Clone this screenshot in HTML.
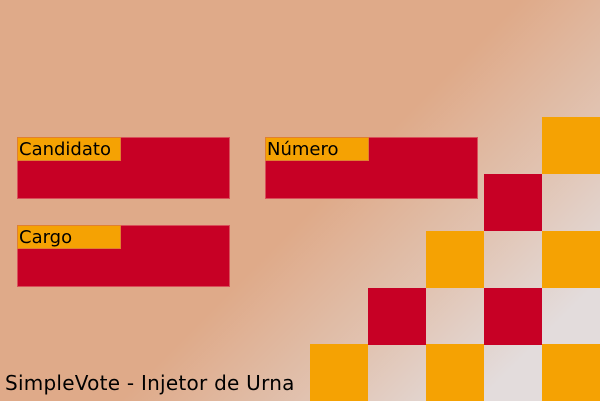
<!DOCTYPE html>
<html><head><meta charset="utf-8"><style>
html,body{margin:0;padding:0}
body{width:600px;height:401px;position:relative;overflow:hidden;font-family:"DejaVu Sans","Liberation Sans",sans-serif;
background:linear-gradient(135deg,#dfaa89 0%,#dfaa89 52%,#e1c4b3 72%,#e3dcdc 88%,#e3dcdc 100%);}
.box{position:absolute;width:213px;height:62px;background:#c70025;border:1px solid #d8505a;box-sizing:border-box}
.lbl{position:absolute;left:-1px;top:-1px;width:104px;height:24px;background:#f5a203;border:1px solid #e08030;box-sizing:border-box;font-size:18px;line-height:24px;padding-left:1px;color:#000}
.c{position:absolute;width:58px;height:57px}
.o{background:#f5a203}.r{background:#c70025}
.f{position:absolute;left:5px;top:371px;font-size:20px;color:#000;letter-spacing:0.25px}
</style></head><body>
<div class="box" style="left:17px;top:137px"><div class="lbl">Candidato</div></div>
<div class="box" style="left:265px;top:137px"><div class="lbl">Número</div></div>
<div class="box" style="left:17px;top:225px"><div class="lbl">Cargo</div></div>
<div class="c o" style="left:542px;top:117px"></div>
<div class="c r" style="left:484px;top:174px"></div>
<div class="c o" style="left:426px;top:231px"></div>
<div class="c o" style="left:542px;top:231px"></div>
<div class="c r" style="left:368px;top:288px"></div>
<div class="c r" style="left:484px;top:288px"></div>
<div class="c o" style="left:310px;top:344px"></div>
<div class="c o" style="left:426px;top:344px"></div>
<div class="c o" style="left:542px;top:344px"></div>
<div class="f">SimpleVote - Injetor de Urna</div>
</body></html>
